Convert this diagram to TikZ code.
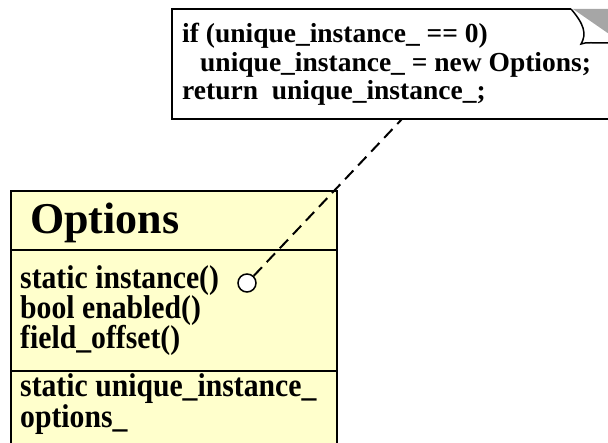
\documentclass[tikz,border=0pt]{standalone}
\usepackage{fontspec}
\setmainfont{Liberation Serif}
\newfontfamily\memberfont{Liberation Serif}[FakeStretch=0.9]
\definecolor{classfill}{RGB}{255,255,204}
\begin{document}
\begin{tikzpicture}[x=1pt, y=-1pt,
    member/.style={anchor=base west, inner sep=0pt, font=\memberfont\bfseries\fontsize{33}{34}\selectfont},
    code/.style={anchor=base west, inner sep=0pt, font=\bfseries\fontsize{27.5}{28}\selectfont}]
\useasboundingbox (0,0) rectangle (608,443);

% Class box
\filldraw[fill=classfill, line width=2.5pt] (11,191) rectangle (337,452);
\draw[line width=2.5pt] (11,250) -- (337,250);
\draw[line width=2.5pt] (11,371) -- (337,371);
\node[anchor=base west, inner sep=0pt, font=\bfseries\fontsize{44}{46}\selectfont] (title) at (30,234) {Options};
\foreach \txt [count=\i] in {static instance(), bool enabled(), field\_offset()}
    \node[member] (op\i) at (20,259+30*\i) {\txt};
\foreach \txt [count=\i] in {static unique\_instance\_, options\_}
    \node[member] (attr\i) at (20,366+31*\i) {\txt};

% Note with folded corner
\draw[line width=2pt] (571,9) -- (172,9) -- (172,119) -- (612,119);
\fill[gray!70] (573,9) -- (612,9) -- (612,36) -- cycle;
\draw[line width=1.5pt] (571,9) .. controls (584,24) and (587,34) .. (581,44)
    .. controls (586,42) and (592,43) .. (612,43);
\node[code] (line1) at (182,43) {if (unique\_instance\_ == 0)};
\node[code] (line2) at (200,72) {unique\_instance\_ = new Options;};
\node[code] (line3) at (182,100) {return\ \ unique\_instance\_;};

% Link from note to operation
\node[circle, draw, fill=white, line width=1.5pt, minimum size=18pt, inner sep=0pt] (pin) at (247,283) {};
\coordinate (notefoot) at (402,119);
\draw[dash pattern=on 12pt off 7pt, line width=2pt] (pin) -- (notefoot);
\end{tikzpicture}
\end{document}
